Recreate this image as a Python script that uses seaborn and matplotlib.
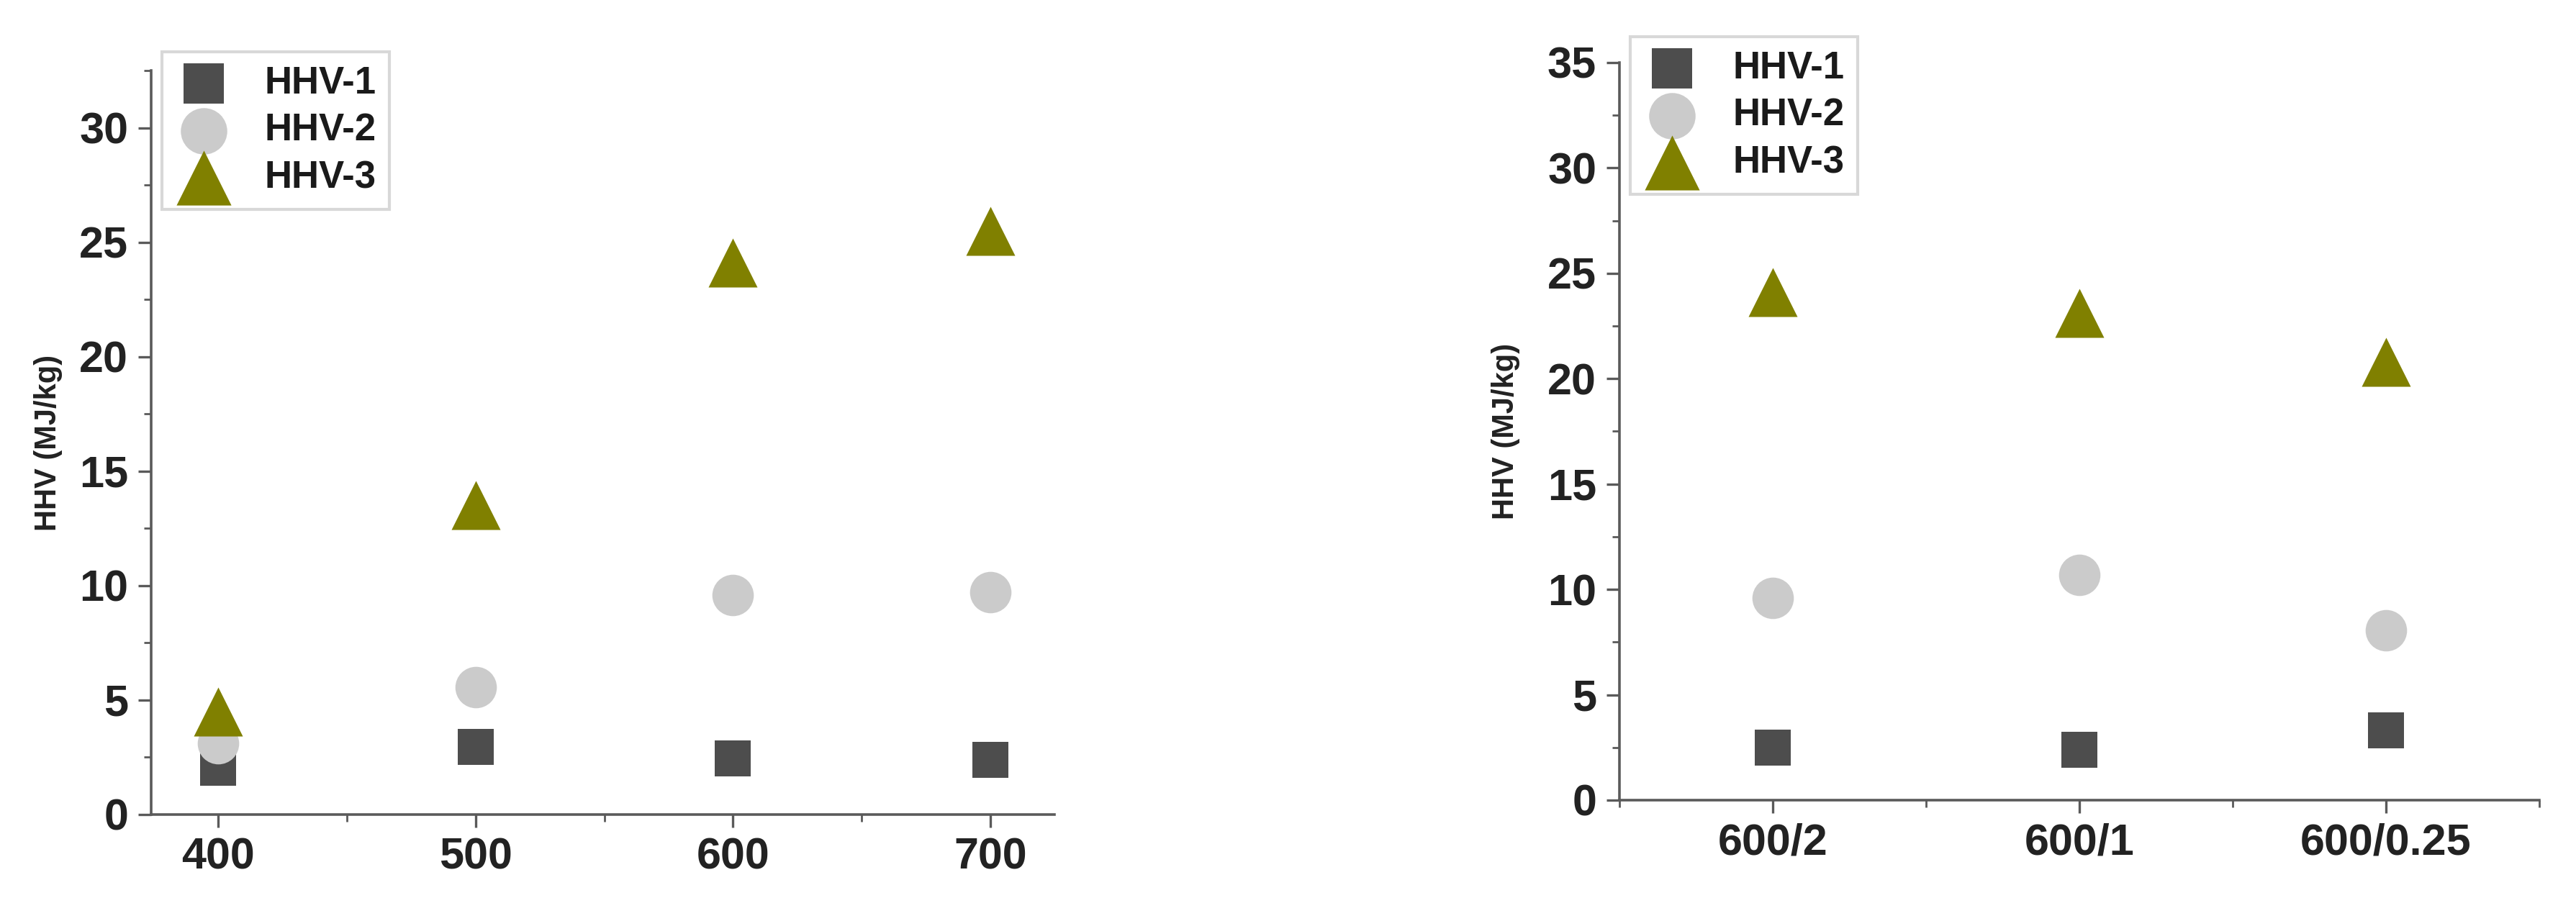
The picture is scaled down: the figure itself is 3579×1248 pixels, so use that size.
import pandas as pd
import matplotlib.pyplot as plt
import seaborn as sns
from matplotlib.ticker import MultipleLocator

# data
temps = [400, 500, 600, 700]
hhv1_temp = [2.05, 2.95, 2.45, 2.4]
hhv2_temp = [3.1, 5.55, 9.6, 9.7]
hhv3_temp = [4.5, 13.5, 24.1, 25.5]

ratios = ["600/2", "600/1", "600/0.25"]
hhv1_ratio = [2.5, 2.4, 3.3]
hhv2_ratio = [9.6, 10.7, 8.05]
hhv3_ratio = [24.1, 23.1, 20.8]

series = ["HHV-1", "HHV-2", "HHV-3"]
colors = {"HHV-1": "#4d4d4d", "HHV-2": "#cbcbcb", "HHV-3": "#808000"}
markers = {"HHV-1": "s", "HHV-2": "o", "HHV-3": "^"}
sizes = {"HHV-1": 330, "HHV-2": 430, "HHV-3": 600}


def long_df(x, cols):
    rows = []
    for name, vals in zip(series, cols):
        for xv, yv in zip(x, vals):
            rows.append({"x": xv, "HHV": yv, "series": name})
    return pd.DataFrame(rows)


sns.set_style("white")
plt.rcParams["font.family"] = ["Liberation Sans", "DejaVu Sans"]
plt.rcParams["font.weight"] = "bold"

fig = plt.figure(figsize=(17.9, 6.24), dpi=200)
ax1 = fig.add_axes([0.0587, 0.093, 0.3506, 0.8285])
ax2 = fig.add_axes([0.6285, 0.109, 0.357, 0.8213])

df1 = long_df(temps, [hhv1_temp, hhv2_temp, hhv3_temp])
df2 = long_df(ratios, [hhv1_ratio, hhv2_ratio, hhv3_ratio])

for ax, df in [(ax1, df1), (ax2, df2)]:
    for name in series:
        sub = df[df["series"] == name]
        sns.scatterplot(data=sub, x="x", y="HHV", ax=ax, color=colors[name],
                        marker=markers[name], s=sizes[name], linewidth=0,
                        label=name, zorder=3)

ax1.set_xlim(374, 725)
ax1.set_ylim(0, 32.5)
ax1.xaxis.set_major_locator(MultipleLocator(100))
ax1.xaxis.set_minor_locator(MultipleLocator(50))
ax1.yaxis.set_major_locator(MultipleLocator(5))
ax1.yaxis.set_minor_locator(MultipleLocator(2.5))

ax2.set_xlim(-0.5, 2.5)
ax2.set_ylim(0, 35)
ax2.set_xticks(range(len(ratios)))
ax2.set_xticklabels(ratios)
ax2.xaxis.set_minor_locator(MultipleLocator(0.5))
ax2.yaxis.set_major_locator(MultipleLocator(5))
ax2.yaxis.set_minor_locator(MultipleLocator(2.5))

for ax, lx in [(ax1, -0.098), (ax2, -0.108)]:
    sns.despine(ax=ax)
    for side in ["left", "bottom"]:
        ax.spines[side].set_color("#5a5a5a")
        ax.spines[side].set_linewidth(1.3)
    ax.tick_params(which="major", direction="out", length=6.5, width=1.2,
                   color="#5a5a5a", labelsize=22, pad=5, left=True, bottom=True)
    ax.tick_params(which="minor", direction="out", length=3.5, width=1.0,
                   color="#5a5a5a", left=True, bottom=True)
    for lab in ax.get_xticklabels() + ax.get_yticklabels():
        lab.set_fontweight("bold")
        lab.set_color("#222222")
    ax.set_xlabel("")
    ax.set_ylabel("HHV (MJ/kg)", fontsize=15, fontweight="bold", color="#222222")
    ax.yaxis.set_label_coords(lx, 0.5)
    leg = ax.legend(loc="upper left", bbox_to_anchor=(0.012, 1.025 if ax is ax1 else 1.035),
                    frameon=True, fancybox=False, fontsize=19, handlelength=1.5,
                    handletextpad=0.85, labelspacing=0.3, borderpad=0.35,
                    borderaxespad=0, markerscale=1.12)
    leg.get_frame().set_edgecolor("#cfcfcf")
    leg.get_frame().set_linewidth(1.5)
    for t in leg.get_texts():
        t.set_fontweight("bold")
        t.set_color("#1a1a1a")

fig.savefig("out.png", dpi=200, facecolor="white")
